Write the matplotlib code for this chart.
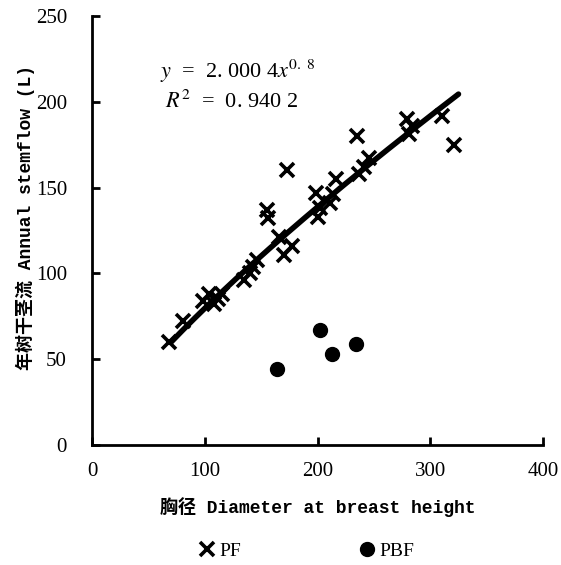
import matplotlib
matplotlib.use("Agg")
import matplotlib.pyplot as plt
import numpy as np

plt.rcParams["mathtext.fontset"] = "stix"

# PF stand: diameter at breast height vs annual stemflow
pf_dbh = [68, 81, 98, 104, 108, 112, 115, 135, 140, 143, 146, 155, 156, 166,
          170, 173, 177, 199, 200, 202, 211, 214, 216, 235, 237, 241, 246,
          279, 281, 284, 310, 321]
pf_flow = [60, 72, 84, 88, 82, 85, 88, 96, 100, 104, 108, 137, 132, 121,
           111, 160, 116, 147, 133, 138, 141, 146, 155, 180, 158, 162, 167,
           190, 181, 186, 192, 175]

# PBF stand
pbf_dbh = [164, 202, 213, 234]
pbf_flow = [44, 67, 53, 59]

# fitted power curve y = a x^b
fit_a, fit_b = 2.0004, 0.8
fit_range = (70, 325)

xticks = [0, 100, 200, 300, 400]
yticks = [0, 50, 100, 150, 200, 250]

label_font = ["Liberation Mono", "Noto Sans CJK SC"]
tick_font = "Liberation Serif"

fig = plt.figure(figsize=(5.61, 5.65), dpi=100)
ax = fig.add_axes([0.164, 0.2124, 0.804, 0.7593])

fx = np.linspace(*fit_range, 200)
ax.plot(fx, fit_a * fx ** fit_b, color="black", lw=4, solid_capstyle="round", zorder=2)
ax.plot(pf_dbh, pf_flow, ls="none", marker="x", ms=10, mew=2.6, color="black",
        label="PF", zorder=3)
ax.plot(pbf_dbh, pbf_flow, ls="none", marker="o", ms=10, color="black",
        label="PBF", zorder=3)

ax.text(60, 218, r"$y$  =  2. 000 4$x^{0.\ 8}$", fontsize=16, family=tick_font, va="center")
ax.text(65, 200, r"$R^2$  =  0. 940 2", fontsize=16, family=tick_font, va="center")

ax.set_xlim(0, 400)
ax.set_ylim(0, 250)
ax.set_xticks(xticks)
ax.set_yticks(yticks)
ax.spines["top"].set_visible(False)
ax.spines["right"].set_visible(False)
for s in ("left", "bottom"):
    ax.spines[s].set_linewidth(2)
ax.tick_params(direction="in", length=6, width=2)
ax.tick_params(axis="x", pad=12)
ax.tick_params(axis="y", pad=18)
for lab in ax.get_xticklabels() + ax.get_yticklabels():
    lab.set_family(tick_font)
    lab.set_fontsize(15)

ax.set_xlabel("胸径 Diameter at breast height", family=label_font,
              fontsize=13, fontweight="bold", labelpad=12)
ax.set_ylabel("年树干茎流 Annual stemflow (L)", family=label_font,
              fontsize=13, fontweight="bold")
ax.yaxis.set_label_coords(-0.127, 0.53)

fig.legend(loc="center", bbox_to_anchor=(0.545, 0.025), ncol=2, frameon=False,
           columnspacing=6, handletextpad=0.1, handlelength=1,
           prop={"family": tick_font, "size": 14})

fig.savefig("out.png", dpi=100)
